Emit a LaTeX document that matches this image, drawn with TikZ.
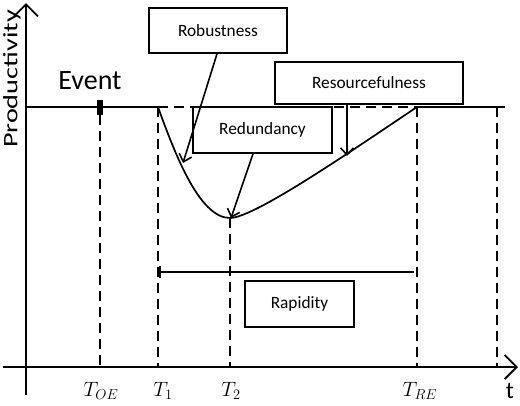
\documentclass[tikz,border=0pt]{standalone}
\usepackage{fontspec}
\setmainfont{Carlito}
\usetikzlibrary{arrows.meta}
\begin{document}
\begin{tikzpicture}[x=1pt,y=-1pt,
  ln/.style={line width=1.7pt},
  dsh/.style={line width=2.2pt,dash pattern=on 10pt off 6pt},
  lbox/.style={draw,line width=1.7pt,fill=white,inner sep=0pt,font=\fontsize{17.3}{19}\selectfont},
  axarrow/.style={line width=1.8pt,-{Straight Barb[length=12pt,width=24pt,line width=1.8pt]}},
  callout/.style={line width=1.6pt,-{Straight Barb[length=7pt,width=13pt,line width=1.6pt]}},
  tlab/.style={font=\fontsize{19.5}{21}\selectfont}]
\useasboundingbox (0,0) rectangle (520,405);
% key coordinates
\coordinate (o) at (26,367);
\coordinate (ytop) at (26,3);
\coordinate (ybot) at (26,395);
\coordinate (xl) at (3,367);
\coordinate (xr) at (518,367);
\coordinate (b0) at (26,107);
\coordinate (t1) at (158,107);
\coordinate (tmin) at (230,218);
\coordinate (tre) at (417,107);
\coordinate (bend) at (505,107);
\coordinate (t1b) at (158,367);
\coordinate (t2b) at (230,367);
\coordinate (treb) at (417,367);
\coordinate (far) at (497,107);
\coordinate (farb) at (497,367);
\coordinate (evb) at (100,367);
% axes
\draw[axarrow] (ybot) -- (ytop);
\draw[axarrow] (xl) -- (xr);
% baseline
\draw[ln] (b0) -- (t1);
\draw[dsh] (t1) -- (tre);
\draw[ln] (tre) -- (bend);
% curve
\draw[ln] (t1) .. controls (176,157) and (200,218) .. (tmin)
          .. controls (255,218) and (360,145) .. (tre);
% event marker
\node[fill=black,minimum width=6pt,minimum height=15pt,inner sep=0pt] (evm) at (100,107.5) {};
% dashed verticals
\draw[dsh] (evm.south) -- (evb);
\draw[dsh] (t1) -- (t1b);
\draw[dsh] (tmin) -- (t2b);
\draw[dsh] (tre) -- (treb);
\draw[dsh] (far) -- (farb);
% rapidity span
\coordinate (rl) at (159,272);
\coordinate (rr) at (414,272);
\draw[line width=1.7pt,{Bar[width=12pt,line width=1.7pt]}-] (rl) -- (rr);
% boxes
\node[lbox,minimum width=138pt,minimum height=45pt] (rob) at (218,30.5) {Robustness};
\node[lbox,minimum width=139pt,minimum height=46pt] (red) at (262.5,130) {Redundancy};
\node[lbox,minimum width=188pt,minimum height=42pt] (res) at (369,83) {Resourcefulness};
\node[lbox,minimum width=109pt,minimum height=46pt] (rap) at (299.5,304) {Rapidity};
% callout arrows
\coordinate (pRob) at (183,163);
\coordinate (pRed) at (231,218);
\coordinate (pRes) at (347,156);
\draw[callout] (rob.south -| 217,0) -- (pRob);
\draw[callout] (red.south -| 253,0) -- (pRed);
\draw[callout] (res.south -| 347,0) -- (pRes);
% labels
\node[font=\fontsize{28}{30}\selectfont] (evt) at (90,81) {Event};
\node[rotate=90,xscale=1.38,font=\fontsize{20.5}{22}\selectfont] (prod) at (12,79) {Productivity};
\node[tlab] (lOE) at (101,391) {$T_{OE}$};
\node[tlab] (l1) at (163,391) {$T_1$};
\node[tlab] (l2) at (231,391) {$T_2$};
\node[tlab] (lRE) at (420,391) {$T_{RE}$};
\node[font=\fontsize{24}{26}\selectfont] (lt) at (510,391) {t};
\end{tikzpicture}
\end{document}
